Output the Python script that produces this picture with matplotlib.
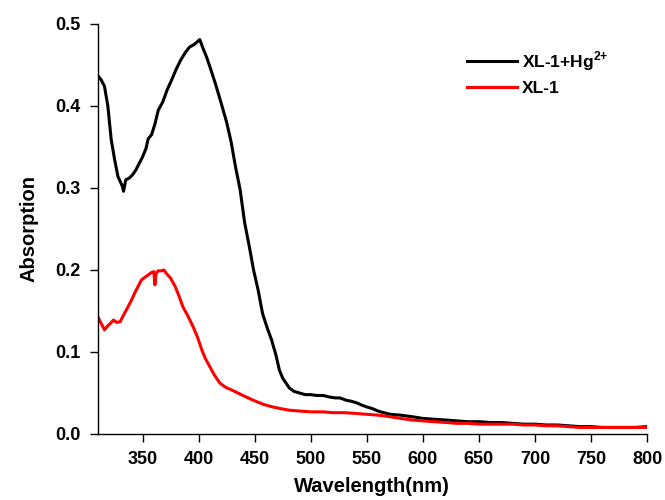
import matplotlib
matplotlib.use('Agg')
import matplotlib.pyplot as plt

# XL-1 + Hg2+ (black) absorption spectrum
wl_hg = [310, 313, 316, 319, 322, 325, 328, 330, 332, 333, 335, 338, 341, 344,
         347, 350, 353, 355, 358, 361, 364, 368, 372, 376, 380, 384, 388, 392,
         396, 401, 404, 407, 410, 415, 420, 425, 429, 433, 437, 441, 445, 449,
         453, 457, 461, 465, 469, 472, 475, 478, 481, 485, 490, 495, 500, 505,
         511, 517, 522, 526, 532, 536, 541, 546, 550, 555, 560, 565, 571, 580,
         591, 600, 610, 621, 630, 640, 651, 660, 670, 680, 690, 700, 710, 720,
         730, 740, 750, 760, 770, 780, 790, 800]
abs_hg = [0.437, 0.432, 0.424, 0.400, 0.359, 0.335, 0.314, 0.308, 0.302, 0.296,
          0.310, 0.312, 0.316, 0.322, 0.330, 0.338, 0.348, 0.360, 0.365, 0.378,
          0.395, 0.405, 0.420, 0.432, 0.445, 0.456, 0.465, 0.472, 0.475, 0.481,
          0.470, 0.460, 0.448, 0.427, 0.404, 0.380, 0.356, 0.325, 0.298, 0.258,
          0.230, 0.200, 0.176, 0.147, 0.130, 0.115, 0.096, 0.078, 0.068, 0.062,
          0.056, 0.052, 0.050, 0.048, 0.048, 0.047, 0.047, 0.045, 0.044, 0.044,
          0.041, 0.040, 0.038, 0.035, 0.033, 0.031, 0.028, 0.026, 0.024, 0.023,
          0.021, 0.019, 0.018, 0.017, 0.016, 0.015, 0.015, 0.014, 0.014, 0.013,
          0.012, 0.012, 0.011, 0.011, 0.010, 0.009, 0.009, 0.008, 0.008, 0.008,
          0.008, 0.009]

# XL-1 (red) absorption spectrum
wl_xl = [310, 313, 316, 319, 322, 324, 327, 330, 333, 337, 340, 343, 346, 349,
         352, 355, 358, 360, 361, 362, 364, 367, 369, 371, 375, 379, 382, 386,
         390, 395, 399, 403, 406, 410, 414, 419, 424, 429, 435, 441, 449, 458,
         466, 473, 481, 490, 500, 511, 520, 530, 541, 550, 560, 571, 580, 591,
         600, 610, 621, 630, 640, 651, 660, 670, 680, 690, 700, 710, 720, 730,
         740, 750, 760, 770, 780, 790, 800]
abs_xl = [0.143, 0.135, 0.127, 0.132, 0.136, 0.139, 0.136, 0.137, 0.145, 0.155,
          0.163, 0.172, 0.180, 0.188, 0.191, 0.194, 0.197, 0.198, 0.182, 0.196,
          0.199, 0.199, 0.200, 0.196, 0.190, 0.180, 0.170, 0.155, 0.145, 0.131,
          0.118, 0.102, 0.092, 0.082, 0.072, 0.062, 0.057, 0.054, 0.050, 0.046,
          0.041, 0.036, 0.033, 0.031, 0.029, 0.028, 0.027, 0.027, 0.026, 0.026,
          0.025, 0.024, 0.023, 0.021, 0.019, 0.017, 0.016, 0.015, 0.014, 0.013,
          0.013, 0.012, 0.012, 0.012, 0.012, 0.011, 0.011, 0.010, 0.010, 0.009,
          0.008, 0.008, 0.008, 0.008, 0.008, 0.008, 0.008]

x_ticks = [350, 400, 450, 500, 550, 600, 650, 700, 750, 800]
y_ticks = [0.0, 0.1, 0.2, 0.3, 0.4, 0.5]

plt.rcParams['font.family'] = ['Liberation Sans', 'DejaVu Sans']
plt.rcParams['font.weight'] = 'bold'
plt.rcParams['mathtext.fontset'] = 'custom'
plt.rcParams['mathtext.rm'] = 'Liberation Sans:bold'
plt.rcParams['mathtext.bf'] = 'Liberation Sans:bold'

fig = plt.figure(figsize=(6.65, 5), dpi=100)
ax = fig.add_axes([0.147, 0.132, 0.826, 0.82])

ax.plot(wl_hg, abs_hg, color='black', linewidth=2.2, label='XL-1+Hg$^{2{+}}$')
ax.plot(wl_xl, abs_xl, color='#ff0000', linewidth=2.2, label='XL-1')

ax.set_xlim(310, 800)
ax.set_ylim(0, 0.5)
ax.set_xticks(x_ticks)
ax.set_yticks(y_ticks)
ax.set_yticklabels(['%.1f' % v for v in y_ticks])

for side in ['top', 'right']:
    ax.spines[side].set_visible(False)
for side in ['left', 'bottom']:
    ax.spines[side].set_linewidth(1.0)

ax.tick_params(direction='out', length=5.5, width=1.0, labelsize=13, pad=7)
for lbl in ax.get_xticklabels() + ax.get_yticklabels():
    lbl.set_fontweight('bold')

ax.set_xlabel('Wavelength(nm)', fontsize=14.5, fontweight='bold', labelpad=6)
ax.set_ylabel('Absorption', fontsize=14.5, fontweight='bold', labelpad=12)

ax.legend(loc='upper left', bbox_to_anchor=(0.672, 0.938), frameon=False,
          prop={'size': 12.5, 'weight': 'bold'}, handlelength=2.9,
          handletextpad=0.25, labelspacing=0.45, borderpad=0,
          borderaxespad=0)

fig.savefig('out.png', dpi=100)
